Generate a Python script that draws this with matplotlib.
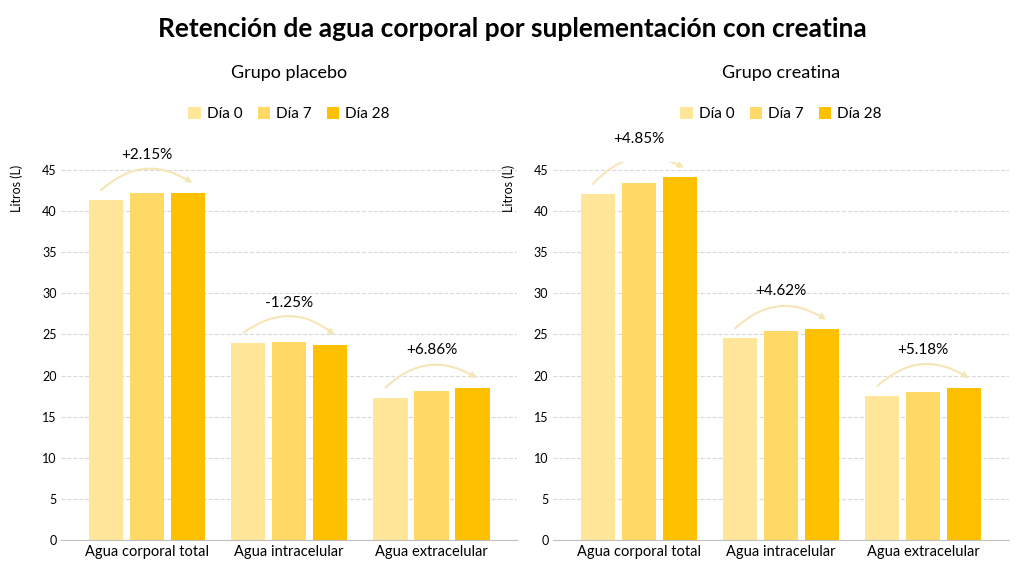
import numpy as np
import matplotlib.pyplot as plt
from matplotlib.patches import FancyArrowPatch

plt.rcParams['font.family'] = ['Lato', 'DejaVu Sans']

categories = ["Agua corporal total", "Agua intracelular", "Agua extracelular"]
days = ["Día 0", "Día 7", "Día 28"]
placebo = [[41.3, 24.0, 17.3], [42.2, 24.1, 18.1], [42.2, 23.7, 18.5]]
creatina = [[42.0, 24.5, 17.5], [43.4, 25.4, 18.0], [44.1, 25.6, 18.5]]
placebo_pct = ["+2.15%", "-1.25%", "+6.86%"]
creatina_pct = ["+4.85%", "+4.62%", "+5.18%"]
colors = ["#FFE699", "#FFD966", "#FFC000"]

fig, axes = plt.subplots(1, 2, figsize=(10.24, 5.77), dpi=100)
fig.subplots_adjust(left=0.06, right=0.985, top=0.72, bottom=0.064, wspace=0.08)
fig.suptitle("Retención de agua corporal por suplementación con creatina",
             fontsize=19, fontweight="bold", y=0.97)

x = np.arange(len(categories))
w = 0.24
for ax, data, pct, title in [(axes[0], placebo, placebo_pct, "Grupo placebo"),
                             (axes[1], creatina, creatina_pct, "Grupo creatina")]:
    for i, (vals, lab) in enumerate(zip(data, days)):
        ax.bar(x + (i - 1) * w * 1.2, vals, w, color=colors[i], label=lab, zorder=2)
    for j in range(len(categories)):
        top = max(data[k][j] for k in range(3))
        y0 = data[0][j] + 1.0
        y1 = data[2][j] + 1.0
        arr = FancyArrowPatch((x[j] - w * 1.4, y0), (x[j] + w * 1.4, y1),
                              connectionstyle="arc3,rad=-0.4", arrowstyle="-|>",
                              mutation_scale=8, color="#F5E6B8", lw=1.5, zorder=3)
        ax.add_patch(arr)
        ax.text(x[j], top + 3.8, pct[j], ha="center", va="bottom", fontsize=11)
    ax.set_ylim(0, 46)
    ax.set_yticks(range(0, 46, 5))
    ax.set_xticks(x)
    ax.set_xticklabels(categories, fontsize=10.5)
    ax.set_xlim(-0.6, 2.6)
    ax.tick_params(axis="y", labelsize=9, length=0)
    ax.tick_params(axis="x", length=0)
    ax.yaxis.grid(True, ls="--", color="#D9D9D9", zorder=0)
    for s in ["top", "right", "left"]:
        ax.spines[s].set_visible(False)
    ax.spines["bottom"].set_color("#BFBFBF")
    ax.set_ylabel("Litros (L)", fontsize=9)
    ax.yaxis.set_label_coords(-0.085, 0.93)
    ax.set_title(title, fontsize=13, pad=60)
    ax.legend(loc="lower center", bbox_to_anchor=(0.5, 1.07), ncol=3, frameon=False,
              fontsize=11, handlelength=0.8, handleheight=0.8, columnspacing=1.0,
              handletextpad=0.4)

fig.savefig("out.png")
